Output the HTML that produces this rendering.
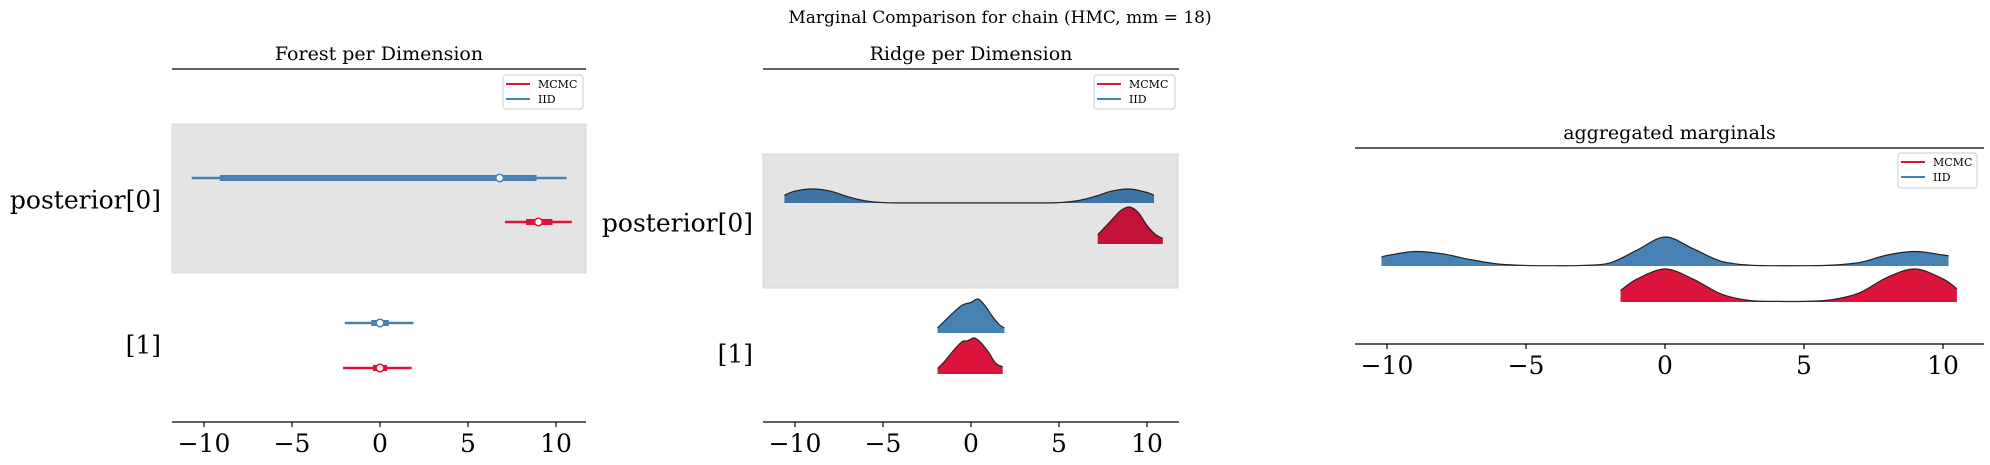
<!DOCTYPE html>
<html><head><meta charset="utf-8"><style>
html,body{margin:0;padding:0;background:#fff;}
svg{display:block;font-family:"DejaVu Serif","Liberation Serif",serif;}
</style></head><body>
<svg id="fig" width="1990" height="465" viewBox="0 0 1990 465" xmlns="http://www.w3.org/2000/svg">
<text x="1000" y="23" text-anchor="middle" font-size="17" fill="#000">Marginal Comparison for chain (HMC, mm = 18)</text>
</svg>
<script>
// ---------- data ----------
const ticks = [-10, -5, 0, 5, 10];
const tickLabels = ["\u221210", "\u22125", "0", "5", "10"];
const rowLabels = ["posterior[0]", "[1]"];
// forest: [thinLo, thickLo, median, thickHi, thinHi]
const forestIID = [[-10.7, -9.1, 6.8, 8.9, 10.6], [-2.0, -0.5, 0.0, 0.5, 1.9]];
const forestMCMC = [[7.1, 8.3, 9.0, 9.8, 10.9], [-2.1, -0.4, 0.0, 0.4, 1.8]];
// ridge densities (x grid, relative density)
const ridgeIID0x = [-10.6,-10,-9,-8,-7,-6,-5,-4,0,4,5,6,7,8,9,10,10.4];
const ridgeIID0y = [0.55,0.85,1,0.85,0.45,0.15,0.03,0.01,0.01,0.01,0.03,0.15,0.45,0.85,1,0.75,0.55];
const ridgeMCMC0x = [7.2,7.5,8,8.5,9,9.5,10,10.5,10.9];
const ridgeMCMC0y = [0.25,0.4,0.65,0.9,1,0.85,0.5,0.25,0.15];
const ridgeIID1x = [-1.9,-1.5,-1,-0.5,0,0.4,0.8,1.2,1.6,1.9];
const ridgeIID1y = [0.15,0.35,0.6,0.82,0.9,1,0.8,0.5,0.25,0.15];
const ridgeMCMC1x = [-1.9,-1.5,-1,-0.5,-0.2,0.2,0.6,1,1.4,1.8];
const ridgeMCMC1y = [0.15,0.35,0.65,0.9,0.92,1,0.85,0.6,0.3,0.2];
// aggregated marginals
const aggIIDx = [-10.2,-10,-9,-8,-7,-6,-5,-4,-3,-2,-1,0,1,2,3,4,5,6,7,8,9,10,10.2];
const aggIIDy = [0.3,0.36,0.5,0.42,0.22,0.07,0.02,0.01,0.02,0.1,0.55,1,0.6,0.17,0.03,0.01,0.01,0.03,0.12,0.38,0.5,0.38,0.35];
const aggMCMCx = [-1.6,-1,0,1,2,3,4,5,6,7,8,9,10,10.5];
const aggMCMCy = [0.35,0.7,1,0.7,0.25,0.05,0.02,0.02,0.07,0.28,0.75,1,0.7,0.4];

const BLUE = "#4682b4", RED = "#dc143c";
const svg = document.getElementById('fig');
const NS = "http://www.w3.org/2000/svg";
function mk(tag, attrs, parent) {
  const e = document.createElementNS(NS, tag);
  for (const k in attrs) e.setAttribute(k, attrs[k]);
  (parent || svg).appendChild(e);
  return e;
}
function txt(s, attrs, parent) { const e = mk('text', attrs, parent); e.textContent = s; return e; }
function xAxis(x0pix, ppu) { return v => x0pix + v * ppu; }

function drawAxes(g, left, right, top, bottom, sx, title, titleY, tickY) {
  let l = mk('line', {x1:left, x2:right, y1:top, y2:top, stroke:'#000', 'stroke-width':1.3}, g);
   
  l = mk('line', {x1:left, x2:right, y1:bottom, y2:bottom, stroke:'#000', 'stroke-width':1.3}, g);
   
  const t = txt(title, {x:(left+right)/2, y:titleY, 'text-anchor':'middle', 'font-size':19}, g);
   
  ticks.forEach((v, i) => {
    const tk = mk('line', {x1:sx(v), x2:sx(v), y1:bottom, y2:bottom+5, stroke:'#000', 'stroke-width':1.2}, g);
     
    const tl = txt(tickLabels[i], {x:sx(v), y:tickY, 'text-anchor':'middle', 'font-size':25}, g);
     
  });
}
function legend(g, x, y, w, h) {
  const lg = mk('g', {}, g);
   
  mk('rect', {x:x, y:y, width:w, height:h, rx:3, fill:'#fff', stroke:'#ccc', 'stroke-width':1}, lg);
  [[RED,'MCMC'],[BLUE,'IID']].forEach((p, i) => {
    const e = mk('g', {}, lg);
     
    const yy = y + 9 + i * 15;
    mk('line', {x1:x+3, x2:x+27, y1:yy, y2:yy, stroke:p[0], 'stroke-width':2}, e);
    txt(p[1], {x:x+35, y:yy+4, 'font-size':11}, e);
  });
}
function ylabel(g, s, x, y) {
  const t = txt(s, {x:x, y:y, 'text-anchor':'end', 'font-size':25, 'dominant-baseline':'middle'}, g);
   
}
function density(g, xs, ys, sx, base, scale, color, name) {
  let d = `M${sx(xs[0])},${base}`;
  const pts = xs.map((v, i) => [sx(v), base - ys[i] * scale]);
  d += ` L${pts[0][0]},${pts[0][1]}`;
  for (let i = 1; i < pts.length; i++) {
    const p0 = pts[Math.max(0,i-2)], p1 = pts[i-1], p2 = pts[i], p3 = pts[Math.min(pts.length-1,i+1)];
    const c1x = p1[0] + (p2[0]-p0[0])/6, c1y = p1[1] + (p2[1]-p0[1])/6;
    const c2x = p2[0] - (p3[0]-p1[0])/6, c2y = p2[1] - (p3[1]-p1[1])/6;
    d += ` C${c1x},${c1y} ${c2x},${c2y} ${p2[0]},${p2[1]}`;
  }
  d += ` L${sx(xs[xs.length-1])},${base} Z`;
  const p = mk('path', {d:d, fill:color, stroke:'none'}, g);
   
  let top = `M${pts[0][0]},${pts[0][1]}`;
  for (let i = 1; i < pts.length; i++) {
    const p0 = pts[Math.max(0,i-2)], p1 = pts[i-1], p2 = pts[i], p3 = pts[Math.min(pts.length-1,i+1)];
    top += ` C${p1[0]+(p2[0]-p0[0])/6},${p1[1]+(p2[1]-p0[1])/6} ${p2[0]-(p3[0]-p1[0])/6},${p2[1]-(p3[1]-p1[1])/6} ${p2[0]},${p2[1]}`;
  }
  mk('path', {d:top, fill:'none', stroke:'#222', 'stroke-width':1.2}, g);
}

// ---------- panel 1: forest ----------
const g1 = mk('g', {});  
const sx1 = xAxis(380, 17.6);
const band1 = mk('rect', {x:172, y:124, width:414, height:149, fill:'#e4e4e4', stroke:'#d8d8d8'}, g1);
 
drawAxes(g1, 172, 586, 69, 422, sx1, 'Forest per Dimension', 60, 452);
legend(g1, 503, 75, 80, 34);
ylabel(g1, rowLabels[0], 161, 202);
ylabel(g1, rowLabels[1], 161, 347);
const forestY = [[178, 222], [323, 368]];
function forest(vals, y, color, name) {
  const g = mk('g', {}, g1);
   
  mk('line', {x1:sx1(vals[0]), x2:sx1(vals[4]), y1:y, y2:y, stroke:color, 'stroke-width':2.5}, g);
  mk('line', {x1:sx1(vals[1]), x2:sx1(vals[3]), y1:y, y2:y, stroke:color, 'stroke-width':6}, g);
  mk('circle', {cx:sx1(vals[2]), cy:y, r:3.8, fill:'#fff', stroke:color, 'stroke-width':1.5}, g);
}
forestIID.forEach((v, i) => forest(v, forestY[i][0], BLUE, 'forest-iid-row' + i));
forestMCMC.forEach((v, i) => forest(v, forestY[i][1], RED, 'forest-mcmc-row' + i));

// ---------- panel 2: ridge ----------
const g2 = mk('g', {});  
const sx2 = xAxis(971, 17.6);
const band2 = mk('rect', {x:763, y:154, width:415, height:134, fill:'#e4e4e4', stroke:'#d8d8d8'}, g2);
 
drawAxes(g2, 763, 1179, 69, 422, sx2, 'Ridge per Dimension', 60, 452);
legend(g2, 1094, 75, 81, 34);
ylabel(g2, rowLabels[0], 753, 225);
ylabel(g2, rowLabels[1], 753, 356);
density(g2, ridgeIID0x, ridgeIID0y, sx2, 203, 14, '#3d74a3', 'ridge-iid-row0');
density(g2, ridgeMCMC0x, ridgeMCMC0y, sx2, 244, 37, '#c41236', 'ridge-mcmc-row0');
density(g2, ridgeIID1x, ridgeIID1y, sx2, 333, 34, BLUE, 'ridge-iid-row1');
density(g2, ridgeMCMC1x, ridgeMCMC1y, sx2, 374, 36, RED, 'ridge-mcmc-row1');

// ---------- panel 3: aggregated ----------
const g3 = mk('g', {});  
const sx3 = xAxis(1665, 27.8);
drawAxes(g3, 1355, 1984, 148, 344, sx3, 'aggregated marginals', 139, 374);
legend(g3, 1898, 153, 79, 35);
density(g3, aggIIDx, aggIIDy, sx3, 266, 29, BLUE, 'aggregated-iid');
density(g3, aggMCMCx, aggMCMCy, sx3, 302, 33, RED, 'aggregated-mcmc');
</script>
</body></html>
